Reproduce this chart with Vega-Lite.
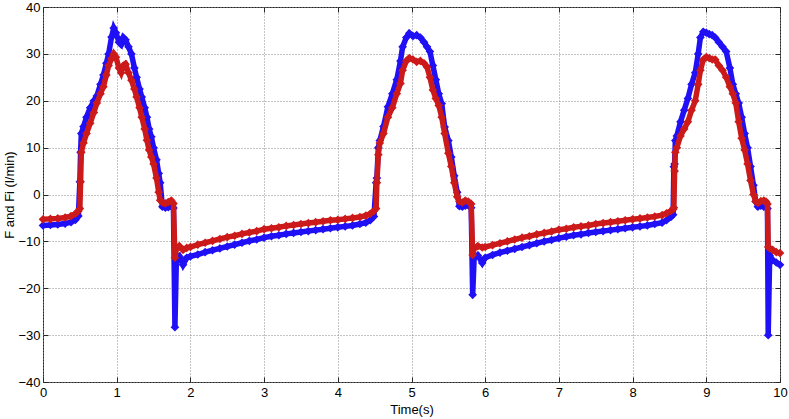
{
  "$schema": "https://vega.github.io/schema/vega-lite/v6.json",
  "width": 737,
  "height": 375,
  "autosize": "none",
  "padding": {"left": 43, "top": 7, "right": 9, "bottom": 37},
  "background": "white",
  "data": {"values": [
    {"t":0.00,"F":-6.6,"Fi":-5.3},{"t":0.10,"F":-6.5,"Fi":-5.2},{"t":0.20,"F":-6.4,"Fi":-5.1},{"t":0.30,"F":-6.2,"Fi":-4.9},
    {"t":0.38,"F":-5.9,"Fi":-4.6},{"t":0.44,"F":-5.4,"Fi":-4.1},{"t":0.48,"F":-4.6,"Fi":-3.5},{"t":0.50,"F":2.7,"Fi":-3.0},
    {"t":0.51,"F":9.0,"Fi":2.7},{"t":0.52,"F":13.0,"Fi":9.0},{"t":0.55,"F":14.5,"Fi":11.0},{"t":0.59,"F":16.5,"Fi":13.0},
    {"t":0.64,"F":18.5,"Fi":15.2},{"t":0.69,"F":20.0,"Fi":17.5},{"t":0.73,"F":21.0,"Fi":19.5},{"t":0.78,"F":23.5,"Fi":21.5},
    {"t":0.82,"F":25.5,"Fi":23.0},{"t":0.86,"F":28.0,"Fi":25.5},{"t":0.89,"F":30.0,"Fi":27.5},{"t":0.93,"F":33.6,"Fi":29.0},
    {"t":0.96,"F":35.5,"Fi":30.0},{"t":0.99,"F":34.5,"Fi":29.3},{"t":1.03,"F":32.5,"Fi":27.0},{"t":1.06,"F":32.0,"Fi":26.0},
    {"t":1.09,"F":33.5,"Fi":27.5},{"t":1.12,"F":33.0,"Fi":27.8},{"t":1.16,"F":31.5,"Fi":26.0},{"t":1.20,"F":30.0,"Fi":24.4},
    {"t":1.24,"F":27.0,"Fi":22.5},{"t":1.27,"F":25.0,"Fi":20.8},{"t":1.31,"F":22.5,"Fi":18.5},{"t":1.34,"F":20.8,"Fi":16.5},
    {"t":1.38,"F":18.5,"Fi":14.0},{"t":1.41,"F":16.5,"Fi":11.6},{"t":1.44,"F":14.0,"Fi":9.5},{"t":1.47,"F":12.3,"Fi":8.0},
    {"t":1.50,"F":10.0,"Fi":6.5},{"t":1.54,"F":7.4,"Fi":3.5},{"t":1.57,"F":4.5,"Fi":0.5},{"t":1.59,"F":2.5,"Fi":-1.2},
    {"t":1.62,"F":-2.6,"Fi":-1.7},{"t":1.66,"F":-2.8,"Fi":-1.9},{"t":1.70,"F":-2.7,"Fi":-1.6},{"t":1.74,"F":-2.5,"Fi":-1.3},
    {"t":1.77,"F":-2.9,"Fi":-1.9},{"t":1.79,"F":-28.3,"Fi":-13.5},{"t":1.81,"F":-13.8,"Fi":-11.6},{"t":1.85,"F":-13.2,"Fi":-11.0},
    {"t":1.90,"F":-15.0,"Fi":-11.8},{"t":1.95,"F":-13.5,"Fi":-11.4},{"t":2.00,"F":-13.2,"Fi":-11.2},{"t":2.10,"F":-12.8,"Fi":-10.7},
    {"t":2.20,"F":-12.3,"Fi":-10.3},{"t":2.30,"F":-11.9,"Fi":-9.9},{"t":2.40,"F":-11.5,"Fi":-9.5},{"t":2.50,"F":-11.1,"Fi":-9.1},
    {"t":2.60,"F":-10.7,"Fi":-8.8},{"t":2.70,"F":-10.3,"Fi":-8.4},{"t":2.80,"F":-9.9,"Fi":-8.1},{"t":2.90,"F":-9.6,"Fi":-7.8},
    {"t":3.00,"F":-9.2,"Fi":-7.4},{"t":3.10,"F":-8.9,"Fi":-7.2},{"t":3.20,"F":-8.7,"Fi":-7.0},{"t":3.30,"F":-8.4,"Fi":-6.7},
    {"t":3.40,"F":-8.2,"Fi":-6.5},{"t":3.50,"F":-8.0,"Fi":-6.3},{"t":3.60,"F":-7.8,"Fi":-6.1},{"t":3.70,"F":-7.6,"Fi":-5.9},
    {"t":3.80,"F":-7.4,"Fi":-5.7},{"t":3.90,"F":-7.2,"Fi":-5.5},{"t":4.00,"F":-7.0,"Fi":-5.4},{"t":4.10,"F":-6.8,"Fi":-5.2},
    {"t":4.20,"F":-6.6,"Fi":-5.0},{"t":4.30,"F":-6.3,"Fi":-4.8},{"t":4.38,"F":-6.0,"Fi":-4.5},{"t":4.44,"F":-5.5,"Fi":-4.1},
    {"t":4.49,"F":-4.7,"Fi":-3.5},{"t":4.52,"F":2.5,"Fi":-3.0},{"t":4.53,"F":3.5,"Fi":2.5},{"t":4.55,"F":10.0,"Fi":8.5},
    {"t":4.57,"F":11.5,"Fi":11.0},{"t":4.62,"F":14.5,"Fi":13.0},{"t":4.68,"F":18.7,"Fi":16.5},{"t":4.74,"F":21.5,"Fi":18.5},
    {"t":4.80,"F":24.5,"Fi":21.5},{"t":4.85,"F":28.5,"Fi":23.7},{"t":4.88,"F":31.5,"Fi":26.5},{"t":4.93,"F":33.5,"Fi":28.5},
    {"t":4.97,"F":34.4,"Fi":29.1},{"t":5.02,"F":33.8,"Fi":28.8},{"t":5.07,"F":34.0,"Fi":28.3},{"t":5.12,"F":33.5,"Fi":28.5},
    {"t":5.17,"F":32.5,"Fi":28.0},{"t":5.21,"F":31.5,"Fi":27.2},{"t":5.25,"F":30.5,"Fi":25.0},{"t":5.29,"F":27.5,"Fi":22.3},
    {"t":5.33,"F":24.5,"Fi":20.5},{"t":5.37,"F":21.5,"Fi":19.0},{"t":5.41,"F":19.4,"Fi":16.5},{"t":5.45,"F":14.4,"Fi":13.0},
    {"t":5.50,"F":11.5,"Fi":8.8},{"t":5.54,"F":8.0,"Fi":6.0},{"t":5.58,"F":4.0,"Fi":2.5},{"t":5.62,"F":0.5,"Fi":-0.5},
    {"t":5.65,"F":-2.5,"Fi":-1.5},{"t":5.69,"F":-2.6,"Fi":-1.7},{"t":5.73,"F":-2.4,"Fi":-1.3},{"t":5.77,"F":-2.3,"Fi":-1.5},
    {"t":5.81,"F":-2.8,"Fi":-2.0},{"t":5.83,"F":-21.4,"Fi":-12.9},{"t":5.85,"F":-13.5,"Fi":-11.5},{"t":5.90,"F":-13.0,"Fi":-11.0},
    {"t":5.96,"F":-14.6,"Fi":-11.3},{"t":6.00,"F":-13.5,"Fi":-11.2},{"t":6.10,"F":-12.9,"Fi":-10.8},{"t":6.20,"F":-12.4,"Fi":-10.4},
    {"t":6.30,"F":-12.0,"Fi":-10.0},{"t":6.40,"F":-11.6,"Fi":-9.6},{"t":6.50,"F":-11.2,"Fi":-9.2},{"t":6.60,"F":-10.8,"Fi":-8.9},
    {"t":6.70,"F":-10.4,"Fi":-8.5},{"t":6.80,"F":-10.0,"Fi":-8.2},{"t":6.90,"F":-9.7,"Fi":-7.9},{"t":7.00,"F":-9.3,"Fi":-7.5},
    {"t":7.10,"F":-9.0,"Fi":-7.3},{"t":7.20,"F":-8.7,"Fi":-7.0},{"t":7.30,"F":-8.5,"Fi":-6.8},{"t":7.40,"F":-8.2,"Fi":-6.6},
    {"t":7.50,"F":-8.0,"Fi":-6.3},{"t":7.60,"F":-7.8,"Fi":-6.1},{"t":7.70,"F":-7.6,"Fi":-5.9},{"t":7.80,"F":-7.4,"Fi":-5.7},
    {"t":7.90,"F":-7.2,"Fi":-5.5},{"t":8.00,"F":-7.0,"Fi":-5.3},{"t":8.10,"F":-6.8,"Fi":-5.1},{"t":8.20,"F":-6.6,"Fi":-4.9},
    {"t":8.30,"F":-6.3,"Fi":-4.7},{"t":8.40,"F":-6.0,"Fi":-4.4},{"t":8.46,"F":-5.5,"Fi":-4.0},{"t":8.52,"F":-4.8,"Fi":-3.5},
    {"t":8.55,"F":-4.3,"Fi":-3.2},{"t":8.56,"F":5.9,"Fi":-2.8},{"t":8.57,"F":6.5,"Fi":5.0},{"t":8.58,"F":11.5,"Fi":9.0},
    {"t":8.60,"F":12.5,"Fi":10.0},{"t":8.65,"F":15.5,"Fi":12.5},{"t":8.70,"F":18.0,"Fi":14.0},{"t":8.75,"F":20.5,"Fi":15.5},
    {"t":8.80,"F":23.5,"Fi":18.0},{"t":8.85,"F":26.0,"Fi":20.0},{"t":8.89,"F":30.0,"Fi":23.5},{"t":8.92,"F":33.5,"Fi":26.5},
    {"t":8.96,"F":34.7,"Fi":28.8},{"t":9.00,"F":34.5,"Fi":29.3},{"t":9.04,"F":34.2,"Fi":29.1},{"t":9.08,"F":34.0,"Fi":28.8},
    {"t":9.12,"F":33.5,"Fi":28.8},{"t":9.17,"F":32.5,"Fi":27.5},{"t":9.22,"F":31.5,"Fi":26.5},{"t":9.27,"F":30.5,"Fi":25.0},
    {"t":9.32,"F":27.0,"Fi":23.0},{"t":9.36,"F":23.5,"Fi":21.5},{"t":9.40,"F":21.5,"Fi":19.5},{"t":9.44,"F":19.5,"Fi":15.5},
    {"t":9.48,"F":16.5,"Fi":12.0},{"t":9.52,"F":13.0,"Fi":9.5},{"t":9.56,"F":10.0,"Fi":6.5},{"t":9.60,"F":6.0,"Fi":3.0},
    {"t":9.64,"F":2.0,"Fi":0.0},{"t":9.67,"F":-1.5,"Fi":-1.5},{"t":9.70,"F":-2.6,"Fi":-1.8},{"t":9.74,"F":-2.4,"Fi":-1.4},
    {"t":9.78,"F":-2.6,"Fi":-1.3},{"t":9.81,"F":-2.5,"Fi":-1.5},{"t":9.83,"F":-3.0,"Fi":-2.0},{"t":9.84,"F":-30.0,"Fi":-11.2},
    {"t":9.86,"F":-13.0,"Fi":-11.5},{"t":9.90,"F":-14.0,"Fi":-11.8},{"t":9.95,"F":-14.5,"Fi":-12.3},{"t":10.00,"F":-15.0,"Fi":-12.5}
  ]},
  "resolve": {"axis": {"x": "independent", "y": "independent"}},
  "layer": [
    {
      "mark": {"type": "line", "color": "#2010f5", "strokeWidth": 5.5},
      "encoding": {
        "x": {"field": "t", "type": "quantitative",
          "scale": {"domain": [0, 10], "nice": false, "zero": false},
          "axis": {"orient": "bottom", "values": [0,1,2,3,4,5,6,7,8,9,10], "grid": true, "tickSize": -5,
            "labelPadding": 9, "labelFlush": false, "labelOverlap": false, "title": "Time(s)", "titlePadding": 4}},
        "y": {"field": "F", "type": "quantitative",
          "scale": {"domain": [-40, 40], "nice": false, "zero": false},
          "axis": {"orient": "left", "values": [-40,-30,-20,-10,0,10,20,30,40], "grid": true, "tickSize": -5,
            "labelPadding": 8, "labelFlush": false, "labelOverlap": false, "title": "F and Fi (l/min)", "titlePadding": 1}}
      }
    },
    {
      "mark": {"type": "point", "shape": "diamond", "filled": true, "size": 75, "color": "#2010f5", "opacity": 1},
      "encoding": {
        "x": {"field": "t", "type": "quantitative", "axis": null},
        "y": {"field": "F", "type": "quantitative", "axis": null}
      }
    },
    {
      "mark": {"type": "line", "color": "#cc1a1a", "strokeWidth": 5.5},
      "encoding": {
        "x": {"field": "t", "type": "quantitative",
          "axis": {"orient": "top", "values": [0,1,2,3,4,5,6,7,8,9,10], "grid": false, "labels": false, "tickSize": -5, "title": null}},
        "y": {"field": "Fi", "type": "quantitative",
          "axis": {"orient": "right", "values": [-40,-30,-20,-10,0,10,20,30,40], "grid": false, "labels": false, "tickSize": -5, "title": null}}
      }
    },
    {
      "mark": {"type": "point", "shape": "diamond", "filled": true, "size": 75, "color": "#cc1a1a", "opacity": 1},
      "encoding": {
        "x": {"field": "t", "type": "quantitative", "axis": null},
        "y": {"field": "Fi", "type": "quantitative", "axis": null}
      }
    }
  ],
  "config": {
    "view": {"stroke": "#262626", "strokeWidth": 1},
    "axis": {
      "domain": false,
      "labelFont": "Liberation Sans", "titleFont": "Liberation Sans",
      "labelFontSize": 13, "titleFontSize": 13, "titleFontWeight": "normal",
      "labelColor": "#000000", "titleColor": "#000000",
      "gridColor": "#8a8a8a", "gridDash": [1, 2], "gridOpacity": 1, "gridWidth": 1,
      "tickColor": "#262626", "tickWidth": 1
    }
  }
}
